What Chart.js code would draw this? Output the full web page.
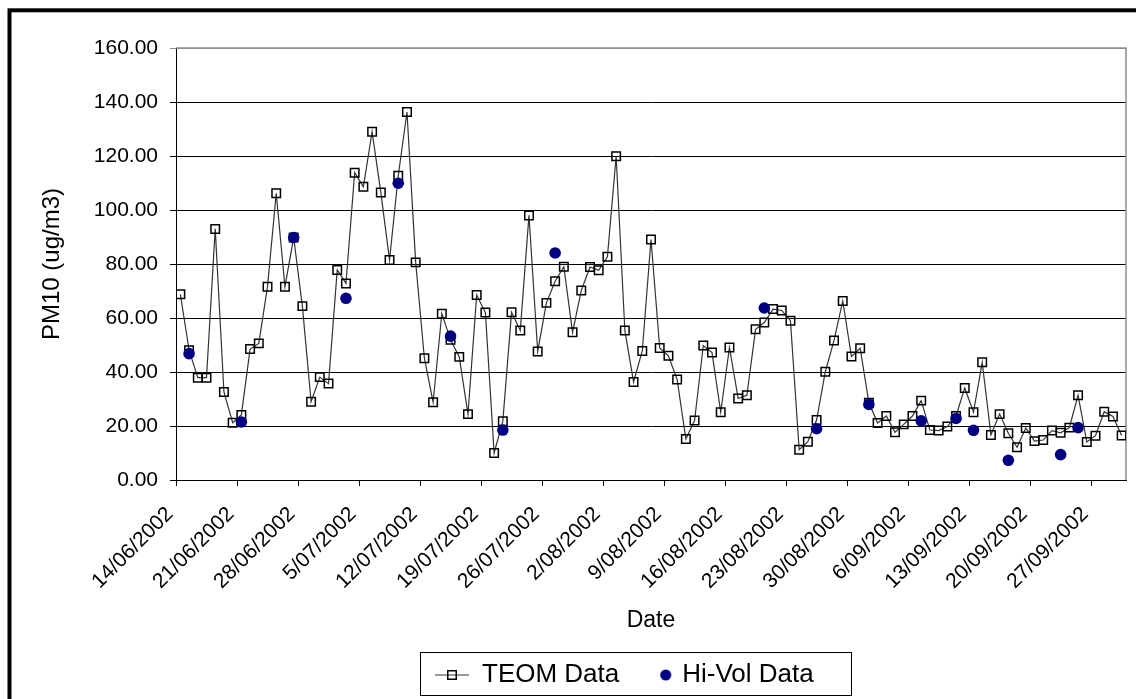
<!DOCTYPE html>
<html>
<head>
<meta charset="utf-8">
<script src="https://cdn.jsdelivr.net/npm/chart.js@4.4.1/dist/chart.umd.min.js"></script>
<style>
  html, body { margin: 0; padding: 0; background: #ffffff; }
  #wrap { width: 1136px; height: 699px; }
</style>
</head>
<body>
<div id="wrap"><canvas id="c" width="1136" height="699"></canvas></div>
<script>
// ---------------- DATA ----------------
const dates = [
  '14/06/2002','15/06/2002','16/06/2002','17/06/2002','18/06/2002','19/06/2002','20/06/2002','21/06/2002','22/06/2002','23/06/2002',
  '24/06/2002','25/06/2002','26/06/2002','27/06/2002','28/06/2002','29/06/2002','30/06/2002',
  '1/07/2002','2/07/2002','3/07/2002','4/07/2002','5/07/2002','6/07/2002','7/07/2002','8/07/2002','9/07/2002','10/07/2002',
  '11/07/2002','12/07/2002','13/07/2002','14/07/2002','15/07/2002','16/07/2002','17/07/2002','18/07/2002','19/07/2002','20/07/2002',
  '21/07/2002','22/07/2002','23/07/2002','24/07/2002','25/07/2002','26/07/2002','27/07/2002','28/07/2002','29/07/2002','30/07/2002','31/07/2002',
  '1/08/2002','2/08/2002','3/08/2002','4/08/2002','5/08/2002','6/08/2002','7/08/2002','8/08/2002','9/08/2002','10/08/2002',
  '11/08/2002','12/08/2002','13/08/2002','14/08/2002','15/08/2002','16/08/2002','17/08/2002','18/08/2002','19/08/2002','20/08/2002',
  '21/08/2002','22/08/2002','23/08/2002','24/08/2002','25/08/2002','26/08/2002','27/08/2002','28/08/2002','29/08/2002','30/08/2002','31/08/2002',
  '1/09/2002','2/09/2002','3/09/2002','4/09/2002','5/09/2002','6/09/2002','7/09/2002','8/09/2002','9/09/2002','10/09/2002',
  '11/09/2002','12/09/2002','13/09/2002','14/09/2002','15/09/2002','16/09/2002','17/09/2002','18/09/2002','19/09/2002','20/09/2002',
  '21/09/2002','22/09/2002','23/09/2002','24/09/2002','25/09/2002','26/09/2002','27/09/2002','28/09/2002','29/09/2002','30/09/2002'
];

const tickLabels = ['14/06/2002','21/06/2002','28/06/2002','5/07/2002','12/07/2002','19/07/2002','26/07/2002','2/08/2002',
  '9/08/2002','16/08/2002','23/08/2002','30/08/2002','6/09/2002','13/09/2002','20/09/2002','27/09/2002'];

const teomValues = [
  68.8, 48.1, 37.9, 37.9, 93.0, 32.6, 21.2, 24.1, 48.5, 50.6,
  71.6, 106.2, 71.6, 89.8, 64.4, 29.0, 38.1,
  35.7, 77.8, 72.8, 113.8, 108.6, 129.0, 106.5, 81.5, 112.7, 136.3,
  80.6, 45.1, 28.8, 61.6, 51.9, 45.6, 24.4, 68.5, 62.0, 10.0,
  21.8, 62.1, 55.4, 98.0, 47.6, 65.6, 73.6, 79.0, 54.7, 70.2, 78.9,
  77.7, 82.7, 119.9, 55.4, 36.3, 47.8, 89.1, 48.9, 46.0, 37.2,
  15.2, 22.0, 49.8, 47.2, 25.1, 49.1, 30.2, 31.4, 55.8, 58.3,
  63.3, 62.8, 59.0, 11.2, 14.2, 22.2, 40.1, 51.7, 66.3, 45.7, 48.8,
  28.6, 21.1, 23.7, 17.7, 20.6, 23.7, 29.4, 18.5, 18.3, 19.8,
  23.7, 34.1, 25.1, 43.6, 16.7, 24.4, 17.3, 12.1, 19.3, 14.4,
  14.8, 18.3, 17.5, 19.4, 31.4, 14.1, 16.4, 25.3, 23.5, 16.5
];

const hiVolDates = ['15/06/2002','21/06/2002','27/06/2002','3/07/2002','9/07/2002','15/07/2002','21/07/2002','27/07/2002',
  '20/08/2002','26/08/2002','1/09/2002','7/09/2002','11/09/2002','13/09/2002','17/09/2002','23/09/2002','25/09/2002'];
const hiVolValues = [46.8, 21.5, 89.8, 67.3, 109.9, 53.3, 18.5, 84.1, 63.7, 19.0, 28.0, 21.9, 22.8, 18.4, 7.3, 9.4, 19.4];

const yTicks = [0, 20, 40, 60, 80, 100, 120, 140, 160];

// ---------------- BUILD ----------------
// each day occupies one unit on the x scale; a reading sits in the middle of its day
const teomPoints = teomValues.map((v, i) => ({ x: i + 0.5, y: v }));
const hiVolPoints = hiVolValues.map((v, k) => ({ x: dates.indexOf(hiVolDates[k]) + 0.5, y: v }));

const FONT = '"Liberation Sans", Arial, Helvetica, sans-serif';
Chart.defaults.font.family = FONT;
Chart.defaults.color = '#000000';

function makeTeomKey() {
  const c = document.createElement('canvas');
  c.width = 34; c.height = 14;
  const g = c.getContext('2d');
  g.strokeStyle = '#333333'; g.lineWidth = 1.2;
  g.beginPath(); g.moveTo(0, 7); g.lineTo(34, 7); g.stroke();
  g.strokeStyle = '#000000'; g.lineWidth = 1.5;
  g.strokeRect(12.75, 2.75, 8.5, 8.5);
  return c;
}
function makeHiVolKey() {
  const c = document.createElement('canvas');
  c.width = 40; c.height = 14;
  const g = c.getContext('2d');
  g.fillStyle = '#000080';
  g.beginPath(); g.arc(33.5, 7, 5.5, 0, Math.PI * 2); g.fill();
  return c;
}
const teomKey = makeTeomKey();
const hiVolKey = makeHiVolKey();

const framePlugin = {
  id: 'frame',
  beforeDraw(chart) {
    const ctx = chart.ctx;
    ctx.save();
    ctx.fillStyle = '#ffffff';
    ctx.fillRect(0, 0, chart.width, chart.height);
    ctx.strokeStyle = '#000000';
    ctx.lineWidth = 4;
    ctx.strokeRect(9.5, 10.3, 1400, 1000);
    ctx.restore();
    // position the legend row like the original
    const lg = chart.legend;
    if (lg) { lg.left = 419; lg.right = 1126; lg.top = 646; }
  },
  beforeDatasetsDraw(chart) {
    const { ctx, chartArea: a } = chart;
    ctx.save();
    ctx.strokeStyle = '#8c8c8c';
    ctx.lineWidth = 1.5;
    ctx.beginPath();
    ctx.moveTo(a.left, a.top); ctx.lineTo(a.right, a.top); ctx.lineTo(a.right, a.bottom);
    ctx.stroke();
    ctx.restore();
  },
  afterDraw(chart) {
    const ctx = chart.ctx;
    ctx.save();
    ctx.strokeStyle = '#000000';
    ctx.lineWidth = 1;
    ctx.strokeRect(420.5, 652.5, 431, 43);
    ctx.restore();
  }
};

new Chart(document.getElementById('c'), {
  type: 'line',
  data: {
    datasets: [
      {
        label: 'Hi-Vol Data',
        data: hiVolPoints,
        showLine: false,
        pointStyle: 'circle',
        pointRadius: 5.8,
        pointBackgroundColor: '#000080',
        pointBorderColor: '#000080',
        pointBorderWidth: 0
      },
      {
        label: 'TEOM Data',
        data: teomPoints,
        borderColor: '#333333',
        borderWidth: 1.2,
        tension: 0,
        pointStyle: 'rect',
        pointRadius: 6,
        pointBackgroundColor: 'rgba(0,0,0,0)',
        pointBorderColor: '#000000',
        pointBorderWidth: 1.5
      }
    ]
  },
  options: {
    responsive: false,
    animation: false,
    events: [],
    layout: { padding: { left: 0, top: 48, right: 10, bottom: 0 } },
    plugins: {
      tooltip: { enabled: false },
      legend: {
        position: 'bottom',
        align: 'start',
        labels: {
          usePointStyle: true,
          pointStyleWidth: 34,
          padding: 16,
          color: '#000000',
          font: { size: 26, family: FONT },
          generateLabels() {
            return [
              { text: 'TEOM Data', pointStyle: teomKey, fontColor: '#000000', hidden: false, lineWidth: 0, datasetIndex: 1 },
              { text: 'Hi-Vol Data', pointStyle: hiVolKey, fontColor: '#000000', hidden: false, lineWidth: 0, datasetIndex: 0 }
            ];
          }
        }
      }
    },
    scales: {
      x: {
        type: 'linear',
        min: 0,
        max: dates.length,
        afterFit(scale) { scale.height = 167; },
        afterBuildTicks(scale) {
          scale.ticks = tickLabels.map(t => ({ value: dates.indexOf(t) }));
        },
        ticks: {
          autoSkip: false,
          minRotation: 45,
          maxRotation: 45,
          padding: 16,
          labelOffset: -6,
          font: { size: 21 },
          color: '#000000',
          callback: (v) => dates[v]
        },
        grid: {
          display: true,
          drawOnChartArea: false,
          drawTicks: true,
          tickLength: 6,
          color: '#000000',
          lineWidth: 1
        },
        border: { display: true, color: '#000000', width: 1 },
        title: {
          display: true,
          text: 'Date',
          font: { size: 23 },
          color: '#000000',
          padding: { top: 0, bottom: 13 }
        }
      },
      y: {
        min: 0,
        max: 160,
        afterFit(scale) { scale.width = 176; },
        afterBuildTicks(scale) {
          scale.ticks = yTicks.map(v => ({ value: v }));
        },
        ticks: {
          padding: 12,
          font: { size: 21 },
          color: '#000000',
          callback: (v) => Number(v).toFixed(2)
        },
        grid: {
          color: (c) => (c.tick && c.tick.value === 160 ? '#8c8c8c' : '#000000'),
          lineWidth: 1,
          tickLength: 6,
          drawTicks: true
        },
        border: { display: true, color: '#000000', width: 1 },
        title: {
          display: true,
          text: 'PM10 (ug/m3)',
          font: { size: 24 },
          color: '#000000',
          padding: { top: 38, bottom: 0 }
        }
      }
    }
  },
  plugins: [framePlugin]
});
</script>
</body>
</html>
